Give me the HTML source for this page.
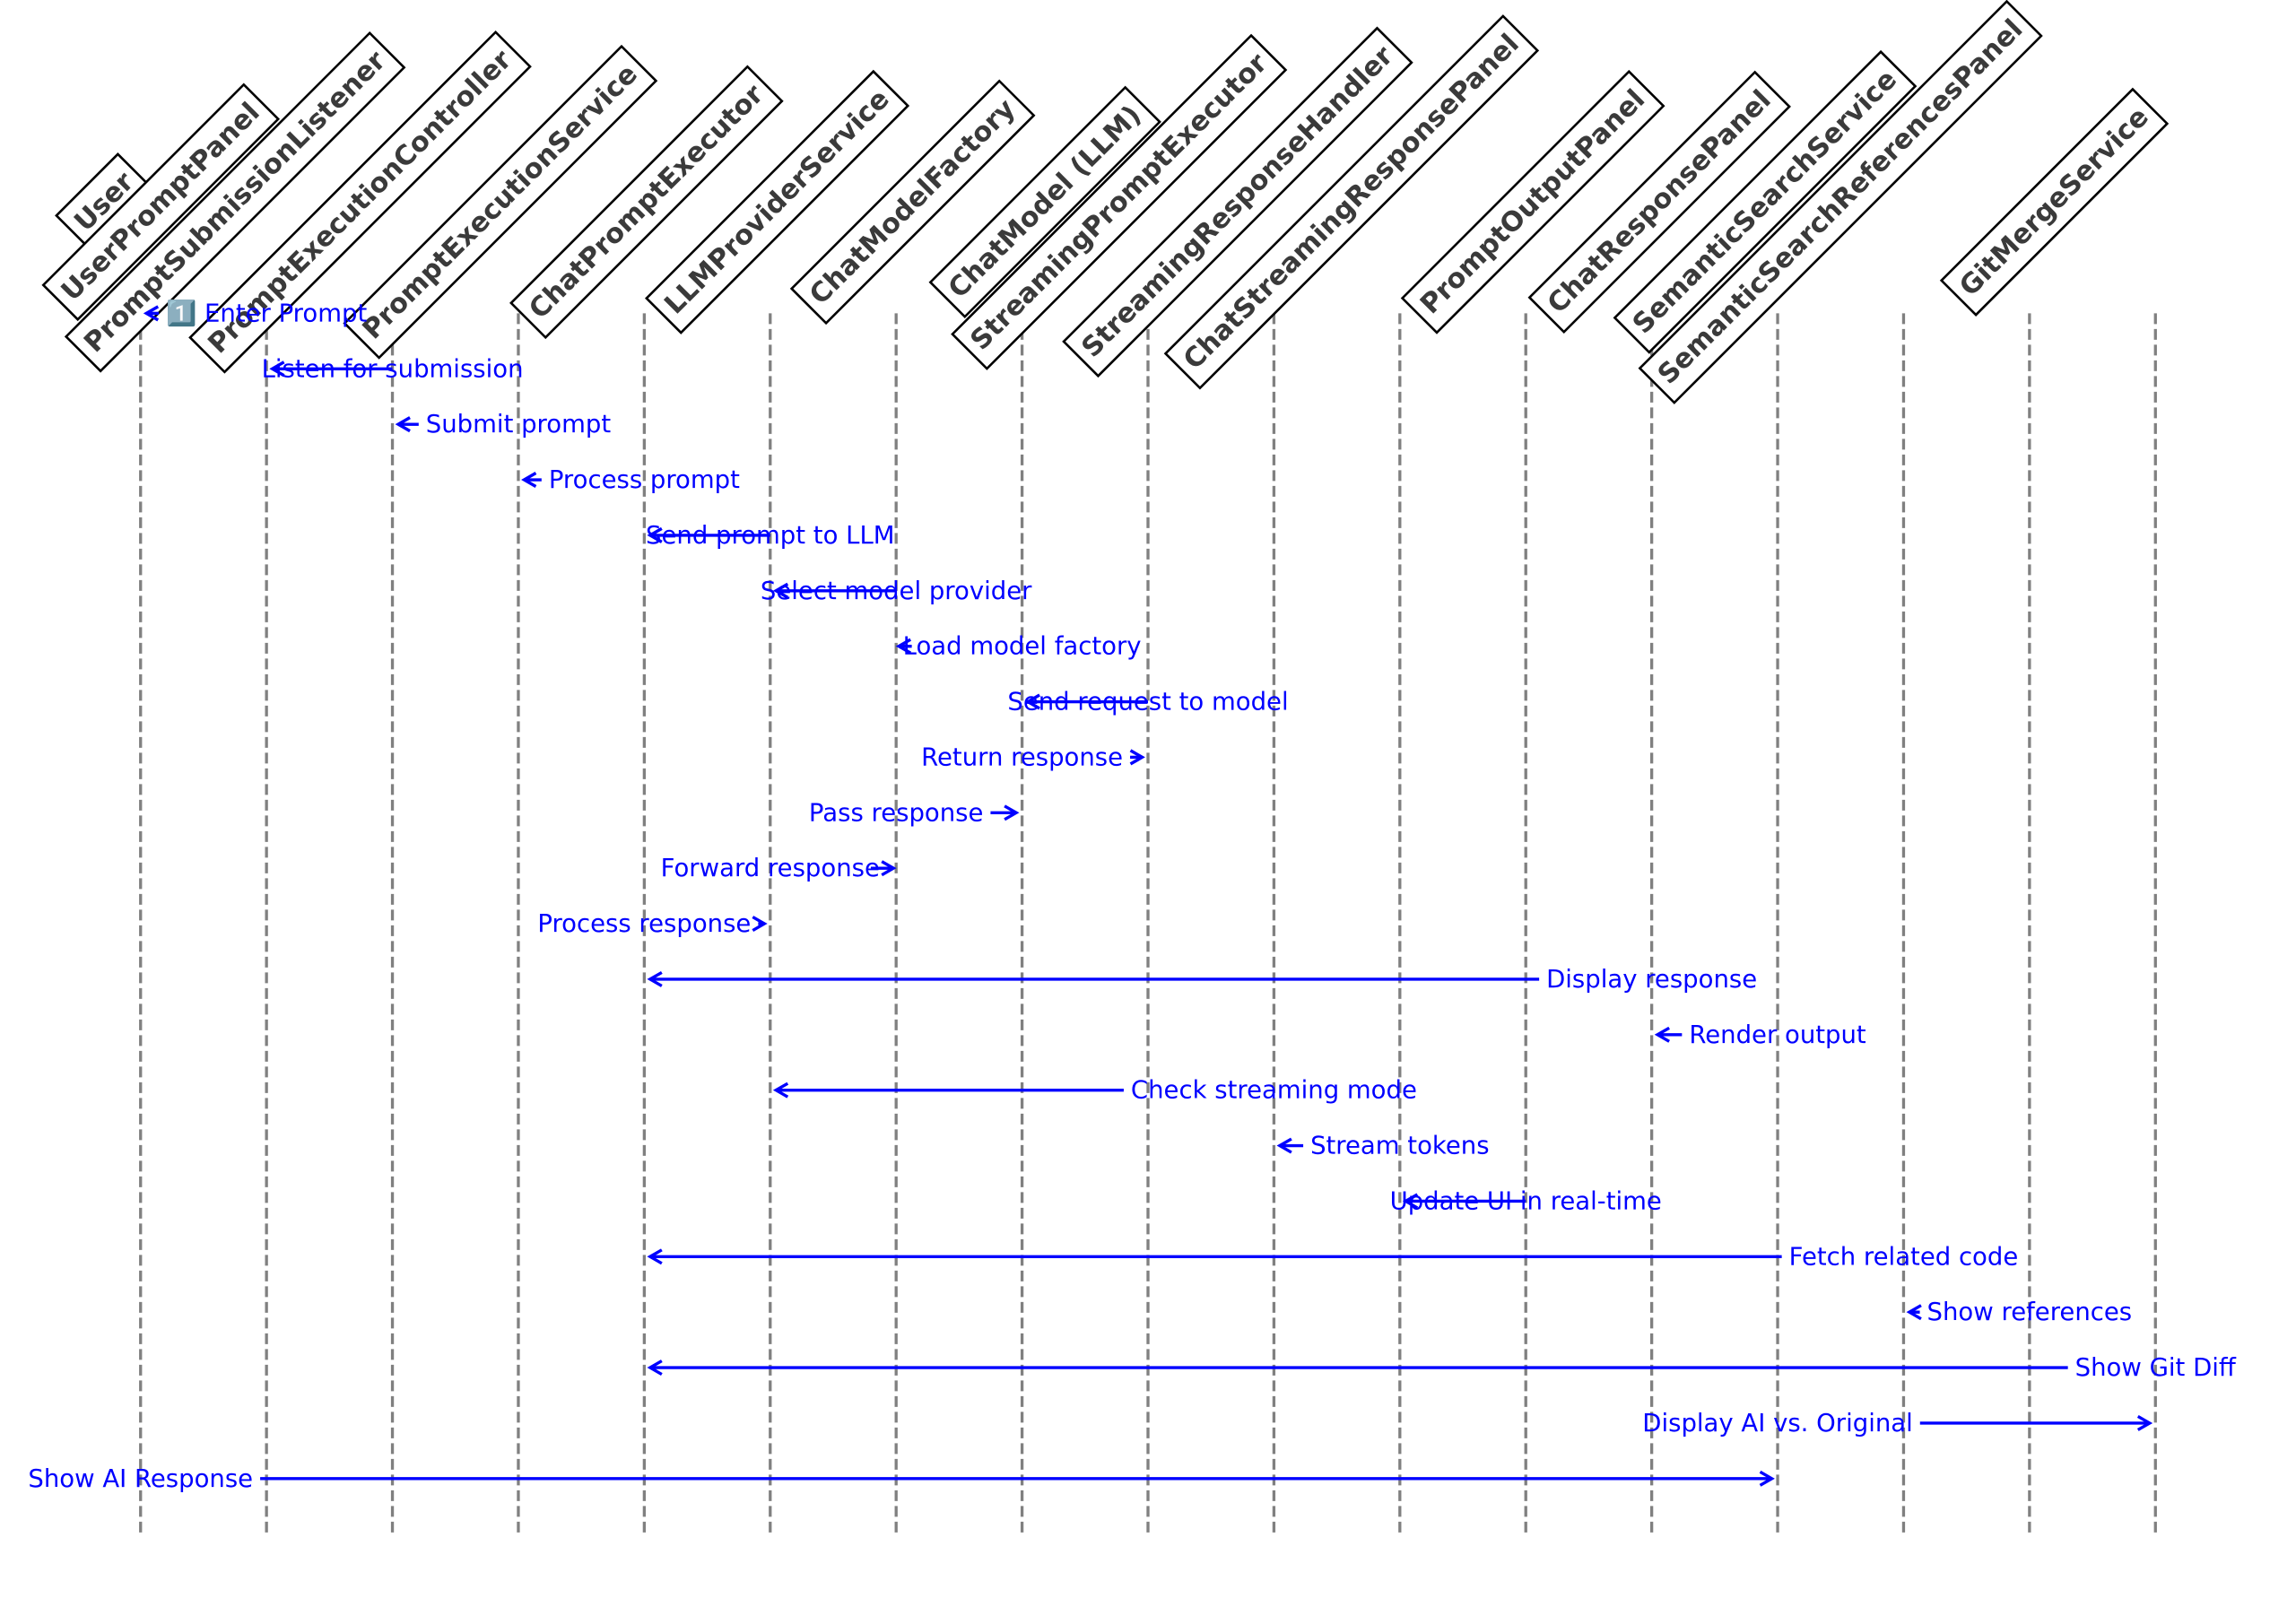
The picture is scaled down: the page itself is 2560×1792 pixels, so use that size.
<!DOCTYPE html>
<html><head><meta charset="utf-8"><style>
html,body{margin:0;padding:0;background:#fff;}
svg{display:block;}
</style></head><body>
<svg id="chart" width="2560" height="1792" viewBox="0 0 2560 1792" xmlns="http://www.w3.org/2000/svg">
<g id="lifelines"></g>
<g id="headers"></g>
<g id="messages"></g>
</svg>
<script>
const participants = ["User","UserPromptPanel","PromptSubmissionListener","PromptExecutionController","PromptExecutionService","ChatPromptExecutor","LLMProviderService","ChatModelFactory","ChatModel (LLM)","StreamingPromptExecutor","StreamingResponseHandler","ChatStreamingResponsePanel","PromptOutputPanel","ChatResponsePanel","SemanticSearchService","SemanticSearchReferencesPanel","GitMergeService"];
const messageLabels = ["1\uFE0F\u20E3 Enter Prompt","Listen for submission","Submit prompt","Process prompt","Send prompt to LLM","Select model provider","Load model factory","Send request to model","Return response","Pass response","Forward response","Process response","Display response","Render output","Check streaming mode","Stream tokens","Update UI in real-time","Fetch related code","Show references","Show Git Diff","Display AI vs. Original","Show AI Response"];
const messageFrom = [1,2,3,4,5,6,7,8,7,6,5,4,12,13,9,10,11,14,15,16,13,0];
const messageTo   = [0,1,2,3,4,5,6,7,8,7,6,5,4,12,5,9,10,4,14,4,16,13];

const S = 2560/1568;
function laneX(i){ return (96 + 86*i) * S; }
function rowY(i){ return (214 + 37.9*i) * S; }
const NS = "http://www.w3.org/2000/svg";
function mk(tag, attrs, parent){ const e=document.createElementNS(NS,tag); for(const k in attrs) e.setAttribute(k, attrs[k]); parent.appendChild(e); return e; }

const gL = document.getElementById('lifelines');
const gH = document.getElementById('headers');
const gM = document.getElementById('messages');
const yTop = 214*S, yBot = 1048*S;

participants.forEach((name, i) => {
  const x = laneX(i);
  const ln = mk('line', {x1:x, x2:x, y1:yTop, y2:yBot, stroke:'#808080', 'stroke-width':3.3, 'stroke-dasharray':'12 5.5'}, gL);
  
  
});

const fsH = 30.2, pad = 9.5, HH = 1.17*fsH;
participants.forEach((name, i) => {
  const g = mk('g', {}, gH);
  
  
  const rect = mk('rect', {fill:'#fff', stroke:'#000', 'stroke-width':2.6}, g);
  const t = mk('text', {'font-family':'"DejaVu Sans","Liberation Sans",sans-serif','font-weight':'bold','font-size':fsH, fill:'#3a3a3a','text-anchor':'middle','dominant-baseline':'central', x:0, y:0}, g);
  t.textContent = name;
  const L = t.getComputedTextLength();
  const bw = L + 2*pad, bh = HH + 2*pad;
  rect.setAttribute('x', -bw/2); rect.setAttribute('y', -bh/2);
  rect.setAttribute('width', bw); rect.setAttribute('height', bh);
  const half = (bw + bh) / (2*Math.SQRT2);
  const cx = laneX(i) + 8*S - half, cy = 138*S;
  g.setAttribute('transform', 'translate(' + cx + ',' + cy + ') rotate(-45)');
});

const fsM = 27.5;
messageLabels.forEach((label, i) => {
  const g = mk('g', {}, gM);
  
  
  const y = rowY(i), tx = laneX(messageFrom[i]), hx = laneX(messageTo[i]);
  const t = mk('text', {'font-family':'"DejaVu Sans","Liberation Sans","Noto Sans CJK JP",sans-serif','font-size':fsM, fill:'#0000ff','text-anchor':'middle','dominant-baseline':'central', x:tx, y:y}, g);
  t.textContent = label;
  const w = t.getComputedTextLength();
  const left = tx - w/2, right = tx + w/2;
  let x1, x2;
  if (hx < tx) {
    const gap = left - hx;
    if (gap >= 20) { x1 = left - 8; x2 = hx + 6.5; }
    else if (gap >= 4) { x1 = left + 10; x2 = hx + 3; }
    else { x1 = tx; x2 = hx + 6.5; }
  } else {
    const gap = hx - right;
    if (gap >= 20) { x1 = right + 8; x2 = hx - 6.5; }
    else if (gap >= 4) { x1 = right - 10; x2 = hx - 3; }
    else { x1 = tx; x2 = hx - 6.5; }
  }
  const dir = x2 < x1 ? -1 : 1;
  const line = mk('line', {x1:x1, x2:x2, y1:y, y2:y, stroke:'#0000ff', 'stroke-width':3.4}, g);
  
  
  const hd = mk('polyline', {points:(x2 - dir*13)+','+(y-7.5)+' '+x2+','+y+' '+(x2 - dir*13)+','+(y+7.5), fill:'none', stroke:'#0000ff','stroke-width':3.4}, g);
  
  
  
  
});
</script>
</body></html>
